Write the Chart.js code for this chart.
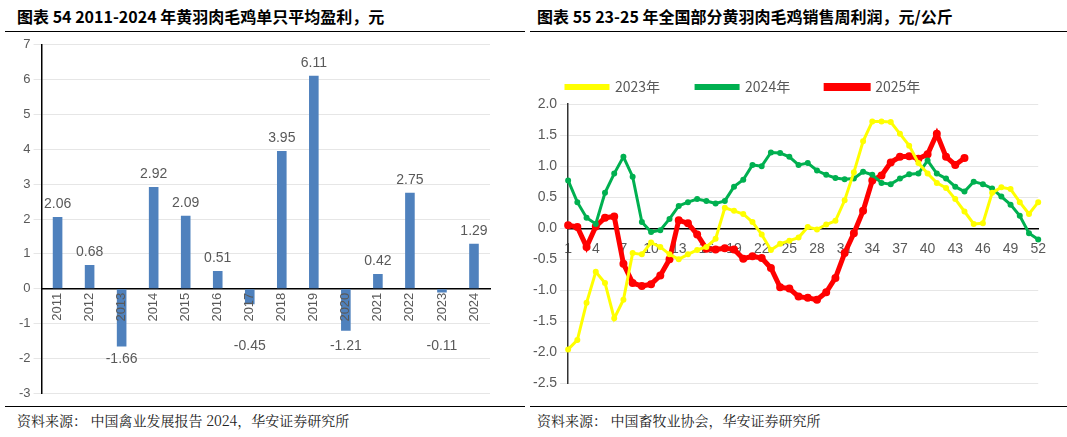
<!DOCTYPE html>
<html>
<head>
<meta charset="utf-8">
<script src="https://cdn.jsdelivr.net/npm/chart.js@4"></script>
<style>
  body { margin: 0; width: 1067px; height: 437px; background: #fff; font-family: "Noto Sans CJK SC", sans-serif; overflow: hidden; }
  .title { position: absolute; top: 4px; font-weight: bold; font-size: 16px; color: #000; }
  .rule { position: absolute; height: 1px; background: #000; }
  .src { position: absolute; top: 410px; font-size: 14px; color: #222; font-family: "Noto Serif CJK SC", "Noto Sans CJK SC", serif; }
  .box { position: absolute; }
</style>
</head>
<body>
<div class="title" style="left:17px">图表 54 2011-2024 年黄羽肉毛鸡单只平均盈利，元</div>
<div class="title" style="left:537px">图表 55 23-25 年全国部分黄羽肉毛鸡销售周利润，元/公斤</div>
<div class="rule" style="left:5px;width:520px;top:31px"></div>
<div class="rule" style="left:530px;width:537px;top:31px"></div>
<div class="rule" style="left:5px;width:520px;top:406px"></div>
<div class="rule" style="left:530px;width:537px;top:406px"></div>
<div class="src" style="left:17px">资料来源：  中国禽业发展报告 2024，华安证券研究所</div>
<div class="src" style="left:537px">资料来源：  中国畜牧业协会，华安证券研究所</div>
<div class="box" style="left:16px;top:34px;width:484px;height:370px"><canvas id="bars"></canvas></div>
<div class="box" style="left:530px;top:44px;width:520px;height:351px"><canvas id="lines"></canvas></div>
<script>
const years = ['2011','2012','2013','2014','2015','2016','2017','2018','2019','2020','2021','2022','2023','2024'];
const profit = [2.06, 0.68, -1.66, 2.92, 2.09, 0.51, -0.45, 3.95, 6.11, -1.21, 0.42, 2.75, -0.11, 1.29];

const weeks = Array.from({ length: 52 }, (_, i) => String(i + 1));
const y2023 = [-1.95,-1.8,-1.2,-0.7,-0.88,-1.45,-1.15,-0.4,-0.42,-0.23,-0.3,-0.42,-0.5,-0.42,-0.35,-0.3,-0.17,0.33,0.28,0.23,0.1,-0.1,-0.35,-0.25,-0.2,-0.15,0.02,-0.02,0.06,0.12,0.45,0.9,1.4,1.72,1.72,1.71,1.52,1.33,1.05,0.88,0.73,0.65,0.47,0.27,0.07,0.08,0.57,0.66,0.63,0.42,0.23,0.42];
const y2024 = [0.77,0.42,0.17,0.07,0.57,0.88,1.15,0.83,0.1,-0.06,-0.03,0.15,0.36,0.42,0.47,0.44,0.4,0.44,0.67,0.78,1.02,1.0,1.22,1.21,1.15,1.02,1.05,0.93,0.86,0.81,0.79,0.8,0.91,0.86,0.73,0.71,0.8,0.87,0.88,1.09,0.88,0.8,0.67,0.59,0.75,0.71,0.64,0.51,0.38,0.2,-0.08,-0.18];
const y2025 = [0.05,0.02,-0.3,0.03,0.17,0.19,-0.57,-0.88,-0.93,-0.9,-0.76,-0.5,0.13,0.08,-0.1,-0.33,-0.34,-0.32,-0.34,-0.49,-0.45,-0.48,-0.64,-0.95,-0.97,-1.1,-1.12,-1.15,-1.03,-0.8,-0.4,-0.08,0.28,0.77,0.85,1.06,1.15,1.16,1.12,1.19,1.52,1.15,1.02,1.13];

const FONT = "'Liberation Sans', Arial, sans-serif";
const GREY = '#595959';

// bar values and vertical year labels drawn on top of the bars
const barText = {
    id: 'barText',
    afterDatasetsDraw(chart) {
        const ctx = chart.ctx;
        const meta = chart.getDatasetMeta(0);
        const y0 = chart.scales.y.getPixelForValue(0);
        ctx.save();
        ctx.fillStyle = GREY;
        ctx.font = '14px ' + FONT;
        meta.data.forEach((bar, i) => {
            const v = profit[i];
            ctx.textAlign = 'center';
            if (v >= 0) {
                ctx.textBaseline = 'bottom';
                ctx.fillText(v.toFixed(2), bar.x, bar.y - 6);
            } else {
                ctx.textBaseline = 'top';
                ctx.fillText(v.toFixed(2), bar.x, Math.max(bar.y + 6, y0 + 50));
            }
            ctx.save();
            ctx.translate(bar.x, y0 + 4);
            ctx.rotate(-Math.PI / 2);
            ctx.textAlign = 'right';
            ctx.textBaseline = 'middle';
            ctx.font = '13px ' + FONT;
            ctx.fillText(years[i], 0, 0);
            ctx.restore();
        });
        ctx.restore();
    },
};

new Chart(document.getElementById('bars'), {
    type: 'bar',
    data: { labels: years, datasets: [{ data: profit, backgroundColor: '#4f81bd', barPercentage: 0.3, categoryPercentage: 1 }] },
    options: {
        responsive: true,
        maintainAspectRatio: false,
        animation: false,
        layout: { padding: { top: 4, right: 10, bottom: 0 } },
        plugins: { legend: { display: false }, tooltip: { enabled: false } },
        scales: {
            x: {
                position: { y: 0 },
                ticks: { display: false },
                grid: { display: false },
                border: { color: '#000', width: 1.5 },
            },
            y: {
                min: -3, max: 7,
                ticks: { stepSize: 1, color: GREY, font: { family: FONT, size: 13 } },
                grid: { color: '#e6e6e6' },
                border: { color: '#000', width: 1.5 },
            },
        },
    },
    plugins: [barText],
});

new Chart(document.getElementById('lines'), {
    type: 'line',
    data: {
        labels: weeks,
        datasets: [
            { label: '2023年', data: y2023, borderColor: '#ffff00', backgroundColor: '#ffff00', borderWidth: 3, pointRadius: 1.5 },
            { label: '2024年', data: y2024, borderColor: '#00b050', backgroundColor: '#00b050', borderWidth: 3, pointRadius: 1.5 },
            { label: '2025年', data: y2025, borderColor: '#ff0000', backgroundColor: '#ff0000', borderWidth: 5, pointRadius: 1.5 },
        ],
    },
    options: {
        responsive: true,
        maintainAspectRatio: false,
        animation: false,
        plugins: {
            tooltip: { enabled: false },
            legend: {
                position: 'top',
                align: 'start',
                labels: { color: GREY, font: { family: "'Noto Sans CJK SC', sans-serif", size: 14 }, boxWidth: 42, boxHeight: 3, padding: 36 },
            },
        },
        scales: {
            x: {
                position: { y: 0 },
                ticks: {
                    autoSkip: false, maxRotation: 0, color: GREY, padding: 4,
                    font: { family: FONT, size: 14 },
                    callback: (v, i) => (i % 3 === 0 ? weeks[i] : ''),
                },
                grid: { display: false },
                border: { color: '#000', width: 1.5 },
            },
            y: {
                min: -2.5, max: 2.0,
                ticks: { stepSize: 0.5, color: GREY, font: { family: FONT, size: 14 }, callback: v => v.toFixed(1) },
                grid: { color: '#e6e6e6' },
                border: { color: '#333', width: 1.5 },
            },
        },
    },
});
</script>
</body>
</html>
